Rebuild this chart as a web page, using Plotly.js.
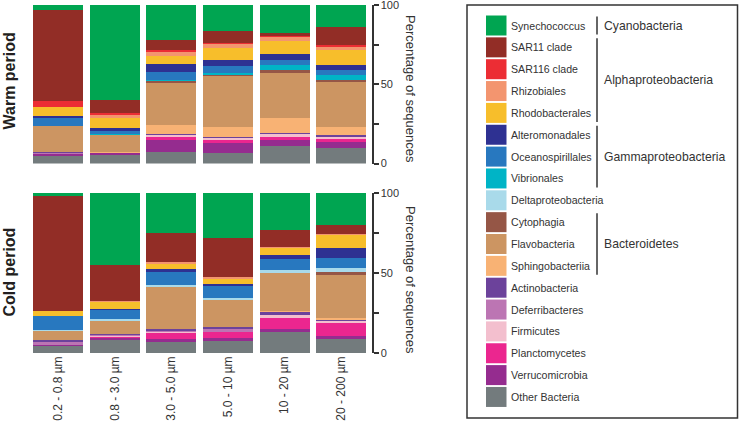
<!DOCTYPE html>
<html>
<head>
<meta charset="utf-8">
<script src="https://cdn.plot.ly/plotly-3.0.1.min.js"></script>
<style>html,body{margin:0;padding:0;background:#fff;}#chart{width:742px;height:433px;}</style>
</head>
<body>
<div id="chart"></div>
<script>
// ---------- DATA ----------
const sizeFractions = ["0.2 - 0.8 µm", "0.8 - 3.0 µm", "3.0 - 5.0 µm", "5.0 - 10 µm", "10 - 20 µm", "20 - 200 µm"];

const taxa = ["Synechococcus", "SAR11 clade", "SAR116 clade", "Rhizobiales", "Rhodobacterales",
  "Alteromonadales", "Oceanospirillales", "Vibrionales", "Deltaproteobacteria", "Cytophagia",
  "Flavobacteria", "Sphingobacteriia", "Actinobacteria", "Deferribacteres", "Firmicutes",
  "Planctomycetes", "Verrucomicrobia", "Other Bacteria"];

// Warm period (% of sequences)
const warmSynechococcus     = [3.3, 60.2, 21.8, 16.1, 17.7, 13.75];
const warmSAR11             = [57, 8, 6.9, 7.7, 2.1, 11.7];
const warmSAR116            = [4.2, 1.2, 0.8, 1.0, 0.6, 0.8];
const warmRhizobiales       = [0, 2.0, 2.7, 2.1, 2.3, 2.3];
const warmRhodobacterales   = [5.4, 6.2, 5.2, 8.1, 8.3, 9.2];
const warmAlteromonadales   = [1.7, 2.0, 4.6, 3.75, 4.0, 3.1];
const warmOceanospirillales = [4.6, 2.0, 5.2, 4.0, 3.1, 3.5];
const warmVibrionales       = [0, 0.6, 1.0, 1.2, 3.1, 2.7];
const warmDeltaproteo       = [0, 0, 0, 0, 0, 0];
const warmCytophagia        = [0.4, 0, 1.0, 1.0, 1.7, 1.7];
const warmFlavobacteria     = [16, 10.6, 26.5, 31.9, 28.1, 28.5];
const warmSphingobacteriia  = [0, 0.8, 5.8, 6.5, 9.6, 5.0];
const warmActinobacteria    = [0.5, 0, 0.8, 0.8, 1.0, 0.8];
const warmDeferribacteres   = [0.8, 0, 0, 0, 0, 0];
const warmFirmicutes        = [0, 0, 0.8, 1.0, 1.5, 1.5];
const warmPlanctomycetes    = [0, 0, 1.9, 2.1, 2.1, 2.1];
const warmVerrucomicrobia   = [1.5, 1.0, 7.5, 6.25, 4.0, 3.75];
const warmOther             = [4.6, 5.4, 7.5, 6.5, 10.8, 9.6];

// Cold period (% of sequences)
const coldSynechococcus     = [2.0, 45.2, 25.2, 28.0, 23.3, 20.0];
const coldSAR11             = [71.5, 22.5, 17.7, 24.6, 10.2, 5.4];
const coldSAR116            = [0, 0, 0, 0, 0, 0];
const coldRhizobiales       = [0, 0.6, 1.25, 1.0, 1.0, 0.8];
const coldRhodobacterales   = [3.1, 4.2, 3.5, 3.3, 4.2, 7.9];
const coldAlteromonadales   = [0, 0.8, 1.9, 1.25, 2.5, 6.25];
const coldOceanospirillales = [9.2, 5.4, 7.7, 7.7, 6.9, 6.7];
const coldVibrionales       = [0, 0, 0, 0, 0, 0];
const coldDeltaproteo       = [0.6, 1.0, 1.7, 1.25, 2.1, 2.5];
const coldCytophagia        = [0, 0, 0, 0, 0, 1.7];
const coldFlavobacteria     = [5.6, 8.3, 26, 16.9, 23.3, 27.1];
const coldSphingobacteriia  = [0, 0, 0, 0, 1.0, 1.0];
const coldActinobacteria    = [1.0, 0.6, 1.0, 1.0, 1.7, 0.8];
const coldDeferribacteres   = [2.0, 0.65, 0.65, 1.9, 0, 0];
const coldFirmicutes        = [0, 0.6, 0.6, 0, 2.1, 1.25];
const coldPlanctomycetes    = [0, 1.0, 4.2, 3.5, 6.7, 7.9];
const coldVerrucomicrobia   = [0.6, 1.25, 1.5, 2.1, 1.7, 1.9];
const coldOther             = [4.4, 7.9, 7.1, 7.5, 13.3, 8.75];

const yTickVals = [0, 25, 50, 75, 100];
const yTickText = ["0", "", "50", "", "100"];

const groups = [
  {name: "Cyanobacteria", first: 0, last: 0},
  {name: "Alphaproteobacteria", first: 1, last: 4},
  {name: "Gammaproteobacteria", first: 5, last: 7},
  {name: "Bacteroidetes", first: 9, last: 11}
];

// ---------- STYLE ----------
const colors = ["#00A551", "#922D26", "#EC2D34", "#F3956F", "#F7BE2B",
  "#2E3192", "#2878BF", "#00B4C6", "#A9DAEA", "#955646",
  "#CC9562", "#F8B274", "#6C429B", "#BC75B3", "#F3BFCE",
  "#EB268F", "#952C8F", "#737B7D"];

const warmSeries = [warmSynechococcus, warmSAR11, warmSAR116, warmRhizobiales, warmRhodobacterales,
  warmAlteromonadales, warmOceanospirillales, warmVibrionales, warmDeltaproteo, warmCytophagia,
  warmFlavobacteria, warmSphingobacteriia, warmActinobacteria, warmDeferribacteres, warmFirmicutes,
  warmPlanctomycetes, warmVerrucomicrobia, warmOther];
const coldSeries = [coldSynechococcus, coldSAR11, coldSAR116, coldRhizobiales, coldRhodobacterales,
  coldAlteromonadales, coldOceanospirillales, coldVibrionales, coldDeltaproteo, coldCytophagia,
  coldFlavobacteria, coldSphingobacteriia, coldActinobacteria, coldDeferribacteres, coldFirmicutes,
  coldPlanctomycetes, coldVerrucomicrobia, coldOther];

const W = 742, H = 433;
const px = x => x / W;
const py = y => 1 - y / H;

const traces = [];
// stack from bottom: reverse of legend order
for (let i = taxa.length - 1; i >= 0; i--) {
  traces.push({type: "bar", x: sizeFractions, y: warmSeries[i], name: taxa[i],
    xaxis: "x", yaxis: "y", marker: {color: colors[i], line: {width: 0}},
    showlegend: false, hoverinfo: "name+y"});
  traces.push({type: "bar", x: sizeFractions, y: coldSeries[i], name: taxa[i],
    xaxis: "x2", yaxis: "y2", marker: {color: colors[i], line: {width: 0}},
    showlegend: false, hoverinfo: "name+y"});
}

const fontFam = "Arial, 'Liberation Sans', sans-serif";
const axisColor = "#333333";

const yaxisBase = {
  range: [0, 100], tickvals: yTickVals, ticktext: yTickText,
  side: "right", anchor: "free", position: px(372.5),
  showline: true, linecolor: axisColor, linewidth: 2,
  ticks: "outside", ticklen: 5, tickwidth: 2, tickcolor: axisColor,
  showgrid: false, zeroline: false, fixedrange: true,
  ticklabeloverflow: "allow", automargin: false,
  tickfont: {family: fontFam, size: 11, color: axisColor}
};

const xaxisBase = {
  domain: [px(29.7), px(369.5)], range: [-0.5, 5.5], type: "category",
  showline: false, ticks: "", showgrid: false, zeroline: false, fixedrange: true,
  tickfont: {family: fontFam, size: 12, color: axisColor}, automargin: false
};

const shapes = [];
const annotations = [];

// Legend box
shapes.push({type: "rect", xref: "paper", yref: "paper",
  x0: px(467), x1: px(737.5), y0: py(5), y1: py(418),
  line: {color: "#333333", width: 1.5}, fillcolor: "rgba(0,0,0,0)"});

const rowTop = 15.5, pitch = 21.85, sw = 20;
taxa.forEach((t, i) => {
  const y0 = rowTop + i * pitch;
  shapes.push({type: "rect", xref: "paper", yref: "paper",
    x0: px(486), x1: px(506.5), y0: py(y0), y1: py(y0 + sw),
    line: {width: 0}, fillcolor: colors[i]});
  annotations.push({xref: "paper", yref: "paper", x: px(509), y: py(y0 + sw / 2),
    text: t, showarrow: false, xanchor: "left", yanchor: "middle",
    font: {family: fontFam, size: 10.6, color: "#333333"}});
});

groups.forEach(g => {
  const yTop = rowTop + g.first * pitch + 1;
  const yBot = rowTop + g.last * pitch + sw - 1;
  shapes.push({type: "line", xref: "paper", yref: "paper",
    x0: px(597), x1: px(597), y0: py(yTop), y1: py(yBot),
    line: {color: "#333333", width: 1.5}});
  annotations.push({xref: "paper", yref: "paper", x: px(602), y: py((yTop + yBot) / 2),
    text: g.name, showarrow: false, xanchor: "left", yanchor: "middle",
    font: {family: fontFam, size: 12.2, color: "#333333"}});
});

// Period labels
annotations.push({xref: "paper", yref: "paper", x: px(8.5), y: py(81), text: "<b>Warm period</b>",
  textangle: -90, showarrow: false, xanchor: "center", yanchor: "middle",
  font: {family: fontFam, size: 16, color: "#231F20"}});
annotations.push({xref: "paper", yref: "paper", x: px(8.5), y: py(272), text: "<b>Cold period</b>",
  textangle: -90, showarrow: false, xanchor: "center", yanchor: "middle",
  font: {family: fontFam, size: 16, color: "#231F20"}});

// Right axis titles
annotations.push({xref: "paper", yref: "paper", x: px(411), y: py(89), text: "Percentage of sequences",
  textangle: 90, showarrow: false, xanchor: "center", yanchor: "middle",
  font: {family: fontFam, size: 13, color: "#333333"}});
annotations.push({xref: "paper", yref: "paper", x: px(411), y: py(280), text: "Percentage of sequences",
  textangle: 90, showarrow: false, xanchor: "center", yanchor: "middle",
  font: {family: fontFam, size: 13, color: "#333333"}});

const layout = {
  width: W, height: H,
  margin: {l: 0, r: 0, t: 0, b: 0, pad: 0},
  paper_bgcolor: "#ffffff", plot_bgcolor: "#ffffff",
  barmode: "stack", bargap: 0.117,
  showlegend: false,
  xaxis: Object.assign({}, xaxisBase, {anchor: "y", showticklabels: false}),
  xaxis2: Object.assign({}, xaxisBase, {anchor: "y2", tickangle: -90, showticklabels: true}),
  yaxis: Object.assign({}, yaxisBase, {domain: [py(163.5), py(5)]}),
  yaxis2: Object.assign({}, yaxisBase, {domain: [py(353), py(193)]}),
  shapes: shapes,
  annotations: annotations,
  font: {family: fontFam}
};

Plotly.newPlot("chart", traces, layout, {displayModeBar: false, staticPlot: true});
</script>
</body>
</html>
